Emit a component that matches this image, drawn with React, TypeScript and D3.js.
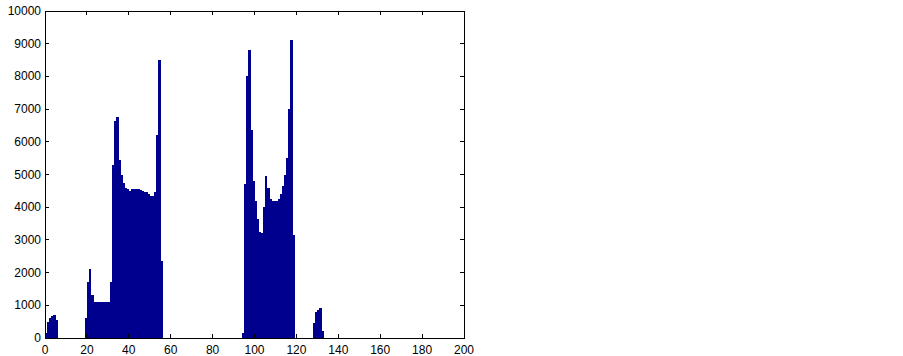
import * as d3 from 'd3';

// histogram bins (left edge of each unit-wide bin) and counts
const bins = [
  0, 1, 2, 3, 4, 5,
  19, 20, 21, 22, 23, 24, 25, 26, 27, 28, 29, 30, 31, 32, 33, 34, 35, 36, 37,
  38, 39, 40, 41, 42, 43, 44, 45, 46, 47, 48, 49, 50, 51, 52, 53, 54, 55,
  94, 95, 96, 97, 98, 99, 100, 101, 102, 103, 104, 105, 106, 107, 108, 109,
  110, 111, 112, 113, 114, 115, 116, 117, 118,
  128, 129, 130, 131, 132,
];
const counts = [
  150, 500, 620, 680, 700, 550,
  600, 1700, 2100, 1300, 1100, 1100, 1100, 1100, 1100, 1100, 1100, 1100, 1700, 5300, 6650, 6750, 5450, 5000, 4750,
  4600, 4550, 4500, 4550, 4550, 4550, 4550, 4530, 4500, 4480, 4450, 4400, 4350, 4350, 4450, 6200, 8500, 2350,
  150, 4700, 8000, 8800, 6350, 4800, 4200, 3650, 3250, 3200, 4000, 4950, 4600, 4250, 4200, 4200,
  4200, 4250, 4400, 4650, 5000, 5500, 7000, 9100, 3150,
  450, 800, 870, 920, 200,
];
const xTicks = [0, 20, 40, 60, 80, 100, 120, 140, 160, 180, 200];
const yTicks = [0, 1000, 2000, 3000, 4000, 5000, 6000, 7000, 8000, 9000, 10000];

const W = 903;
const H = 356;
const left = 45;
const right = 464;
const top = 11;
const bottom = 338;
const tick = 4;

export default function App() {
  const x = d3.scaleLinear().domain([0, 200]).range([left, right]);
  const y = d3.scaleLinear().domain([0, 10000]).range([bottom, top]);

  return (
    <svg
      width={W}
      height={H}
      style={{ position: 'absolute', left: 0, top: 0, background: '#fff' }}
      fontFamily="'Liberation Sans', Arial, sans-serif"
      fontSize={12}
    >
      <rect x={0} y={0} width={W} height={H} fill="#fff" />
      <g shapeRendering="crispEdges">
        {bins.map((b, i) => (
          <rect
            key={b}
            x={x(b)}
            y={y(counts[i])}
            width={x(b + 1) - x(b) + 0.4}
            height={y(0) - y(counts[i])}
            fill="#00008f"
          />
        ))}
      </g>
      <g stroke="#000" strokeWidth={1} shapeRendering="crispEdges" fill="none">
        <rect x={left} y={top} width={right - left} height={bottom - top} />
        {xTicks.map((t) => (
          <g key={t}>
            <line x1={x(t)} x2={x(t)} y1={bottom} y2={bottom - tick} />
            <line x1={x(t)} x2={x(t)} y1={top} y2={top + tick} />
          </g>
        ))}
        {yTicks.map((t) => (
          <g key={t}>
            <line x1={left} x2={left + tick} y1={y(t)} y2={y(t)} />
            <line x1={right} x2={right - tick} y1={y(t)} y2={y(t)} />
          </g>
        ))}
      </g>
      <g fill="#000">
        {xTicks.map((t) => (
          <text key={t} x={x(t)} y={354} textAnchor="middle">
            {t}
          </text>
        ))}
        {yTicks.map((t) => (
          <text key={t} x={left - 4} y={y(t) + 4} textAnchor="end">
            {t}
          </text>
        ))}
      </g>
    </svg>
  );
}
